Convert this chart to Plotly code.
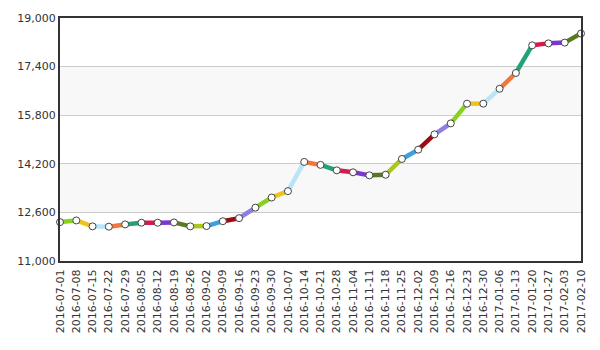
import plotly.graph_objects as go

dates = ["2016-07-01","2016-07-08","2016-07-15","2016-07-22","2016-07-29","2016-08-05",
         "2016-08-12","2016-08-19","2016-08-26","2016-09-02","2016-09-09","2016-09-16",
         "2016-09-23","2016-09-30","2016-10-07","2016-10-14","2016-10-21","2016-10-28",
         "2016-11-04","2016-11-11","2016-11-18","2016-11-25","2016-12-02","2016-12-09",
         "2016-12-16","2016-12-23","2016-12-30","2017-01-06","2017-01-13","2017-01-20",
         "2017-01-27","2017-02-03","2017-02-10"]
values = [12280, 12335, 12140, 12130, 12205, 12260, 12260, 12270, 12140, 12150, 12310,
          12410, 12756, 13090, 13300, 14262, 14165, 13985, 13920, 13820, 13840, 14360,
          14665, 15170, 15530, 16180, 16180, 16670, 17190, 18100, 18165, 18190, 18490]
palette = ["#86d21f", "#f0c21c", "#b8e6f6", "#f0783c", "#22a27a", "#d61a4c",
           "#7c36d4", "#567c1c", "#a8c81e", "#3b9fe4", "#9c0b10", "#8e80e0"]
y_ticks = [11000, 12600, 14200, 15800, 17400, 19000]
bands = [(12600, 14200), (15800, 17400)]

fig = go.Figure()
for i in range(len(dates) - 1):
    fig.add_trace(go.Scatter(
        x=[dates[i], dates[i + 1]], y=[values[i], values[i + 1]],
        mode="lines", line=dict(color=palette[i % len(palette)], width=4.5),
        hoverinfo="skip", showlegend=False, cliponaxis=False))
fig.add_trace(go.Scatter(
    x=dates, y=values, mode="markers",
    marker=dict(size=7, color="white", line=dict(color="#444", width=1)),
    showlegend=False, cliponaxis=False))

for lo, hi in bands:
    fig.add_shape(type="rect", xref="paper", x0=0, x1=1, yref="y", y0=lo, y1=hi,
                  fillcolor="#f8f8f8", line_width=0, layer="below")

fig.update_layout(
    width=600, height=350,
    margin=dict(l=60, r=15, t=15, b=89),
    paper_bgcolor="white", plot_bgcolor="white",
    font=dict(family="DejaVu Sans", size=11, color="#333"),
    xaxis=dict(type="category", range=[0, len(dates) - 1], tickangle=-90,
               showgrid=False, showline=True, linecolor="#333", linewidth=2,
               mirror=True, ticks="", ticklabelstandoff=2,
               tickfont=dict(size=11, color="#333")),
    yaxis=dict(range=[11000, 19000], tickvals=y_ticks,
               ticktext=[f"{v:,}" for v in y_ticks],
               showgrid=True, gridcolor="#cccccc", gridwidth=1,
               showline=True, linecolor="#333", linewidth=2, mirror=True,
               ticks="", zeroline=False, tickfont=dict(size=11, color="#333")),
)
fig.write_html("out.html")
